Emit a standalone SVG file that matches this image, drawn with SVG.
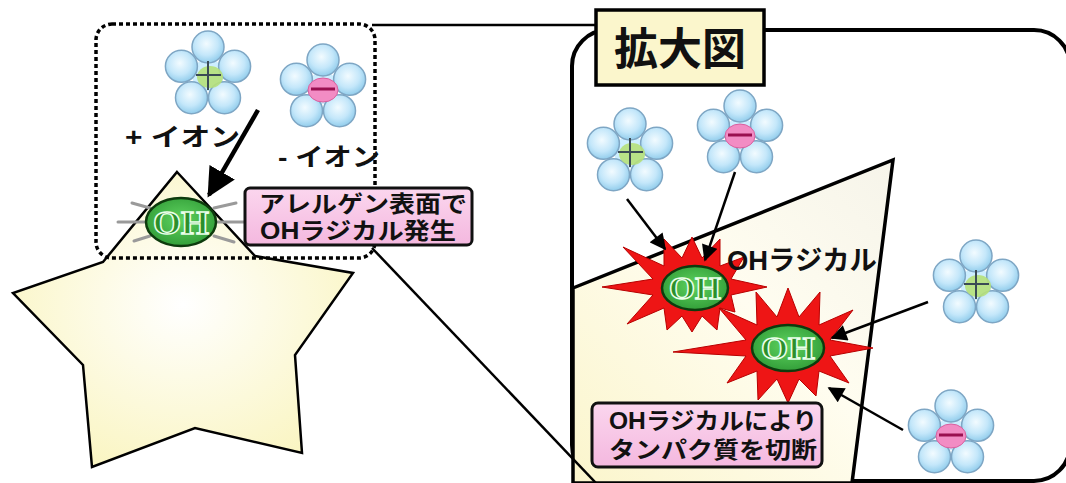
<svg xmlns="http://www.w3.org/2000/svg" xmlns:xlink="http://www.w3.org/1999/xlink" width="1066" height="483" viewBox="0 0 1066 483">
  <style>
    .jp { font-family: "Liberation Sans", "Noto Sans CJK JP", sans-serif; font-weight: 700; fill: #111; }
    .oh { font-family: "Liberation Serif", serif; font-weight: 700; fill: #2b8f2b; stroke: #eaffea; stroke-width: 1.4; }
    .ohball { fill: url(#gGreen); stroke: #0d3b0d; stroke-width: 2.5; }
    .petal { fill: url(#gPetal); stroke: #7ea6c4; stroke-width: 1.5; }
    .burst { fill: #ee1515; stroke: #b80000; stroke-width: 1; }
    .ray { stroke: #9a9a9a; stroke-width: 3; stroke-linecap: round; }
    .line { fill: none; stroke: #000; stroke-width: 2.5; }
    .arrow { fill: none; stroke: #000; stroke-width: 2.5; marker-end: url(#head); }
    .pink { fill: url(#gPink); stroke: #111; stroke-width: 3; }
  </style>
  <defs>
    <radialGradient id="gPetal" cx="0.45" cy="0.4" r="0.6">
      <stop offset="0" stop-color="#f2fbff"/>
      <stop offset="0.6" stop-color="#c4e7fa"/>
      <stop offset="1" stop-color="#92cdec"/>
    </radialGradient>
    <radialGradient id="gGreen" cx="0.5" cy="0.45" r="0.6">
      <stop offset="0" stop-color="#5fd35f"/>
      <stop offset="1" stop-color="#2f9a36"/>
    </radialGradient>
    <radialGradient id="gStar" cx="0.5" cy="0.45" r="0.6">
      <stop offset="0" stop-color="#ffffff"/>
      <stop offset="1" stop-color="#faf5c2"/>
    </radialGradient>
    <linearGradient id="gCut" x1="0" y1="1" x2="1" y2="0">
      <stop offset="0" stop-color="#fbf5cc"/>
      <stop offset="0.55" stop-color="#fffdf0"/>
      <stop offset="1" stop-color="#f6f4ea"/>
    </linearGradient>
    <linearGradient id="gPink" x1="0" y1="0" x2="0" y2="1">
      <stop offset="0" stop-color="#fbd6ee"/>
      <stop offset="1" stop-color="#f4b8df"/>
    </linearGradient>
    <marker id="head" viewBox="0 0 10 10" refX="9" refY="5" markerWidth="7" markerHeight="6.5" orient="auto" markerUnits="strokeWidth">
      <path d="M0,0 L10,5 L0,10 z" fill="#000"/>
    </marker>
    <marker id="headBig" viewBox="0 0 10 10" refX="9" refY="5" markerWidth="6.5" markerHeight="7" orient="auto" markerUnits="strokeWidth">
      <path d="M0,0 L10,5 L0,10 z" fill="#000"/>
    </marker>
    <!-- ion: five petals around a core -->
    <g id="petals">
      <circle cx="0" cy="0" r="16" fill="#cdeeff"/>
      <circle class="petal" cx="0" cy="-28" r="16"/>
      <circle class="petal" cx="26.6" cy="-8.7" r="16"/>
      <circle class="petal" cx="16.5" cy="22.7" r="16"/>
      <circle class="petal" cx="-16.5" cy="22.7" r="16"/>
      <circle class="petal" cx="-26.6" cy="-8.7" r="16"/>
    </g>
    <g id="ionPlus">
      <use href="#petals"/>
      <ellipse cx="2" cy="2" rx="13" ry="11" fill="#b6e07a" opacity="0.9"/>
      <path d="M-12,0 H13 M0,-14 V15" stroke="#3b4b55" stroke-width="2"/>
    </g>
    <g id="ionMinus">
      <use href="#petals"/>
      <ellipse cx="0" cy="2" rx="15" ry="12" fill="#f28cc4" stroke="#d8609f" stroke-width="1"/>
      <path d="M-12,1 H12" stroke="#9a1050" stroke-width="3"/>
    </g>
  </defs>

  <rect width="1066" height="483" fill="#ffffff"/>

  <!-- enlarged view frame -->
  <g id="zoom-frame">
    <rect x="572" y="30" width="498" height="451" rx="36" fill="#ffffff" stroke="#000" stroke-width="4"/>
    <polygon points="573,288 893,160 852,483 573,483" fill="url(#gCut)" stroke="#000" stroke-width="3.5"/>
  </g>

  <!-- allergen surface (star) -->
  <g id="allergen">
    <polygon points="177,172 255,256 353,273 295,355 302,453 195,428 92,467 83,365 13,293 103,262" fill="url(#gStar)" stroke="#000" stroke-width="2.5"/>
  </g>

  <!-- dotted detail area -->
  <g id="detail-area">
    <rect x="96" y="24" width="279" height="234" rx="16" fill="none" stroke="#000" stroke-width="3.5" stroke-dasharray="4 3"/>
  </g>

  <!-- OH radical on the allergen -->
  <g id="oh-left">
    <line class="ray" x1="118" y1="222" x2="146" y2="222"/>
    <line class="ray" x1="132" y1="203" x2="150" y2="208"/>
    <line class="ray" x1="134" y1="241" x2="150" y2="236"/>
    <line class="ray" x1="216" y1="222" x2="244" y2="222"/>
    <line class="ray" x1="214" y1="208" x2="236" y2="203"/>
    <line class="ray" x1="214" y1="236" x2="234" y2="242"/>
    <ellipse class="ohball" cx="181" cy="222" rx="35" ry="24"/>
    <text class="oh" x="181" y="234" font-size="33" text-anchor="middle" textLength="56" lengthAdjust="spacingAndGlyphs">OH</text>
  </g>

  <!-- ions, left -->
  <g id="ion-plus-left"><use href="#ionPlus" x="208" y="75"/></g>
  <g id="ion-minus-left"><use href="#ionMinus" x="323" y="88"/></g>
  <g id="label-plus"><text class="jp" x="125" y="146" font-size="25" textLength="115" lengthAdjust="spacingAndGlyphs">+ イオン</text></g>
  <g id="label-minus"><text class="jp" x="278" y="166" font-size="25" textLength="102" lengthAdjust="spacingAndGlyphs">- イオン</text></g>

  <!-- note: OH on allergen surface -->
  <g id="note-surface">
    <rect class="pink" x="245" y="188" width="227" height="57" rx="5"/>
    <text class="jp" font-size="23">
      <tspan x="259" y="212" textLength="208" lengthAdjust="spacingAndGlyphs">アレルゲン表面で</tspan>
      <tspan x="260" y="239" textLength="196" lengthAdjust="spacingAndGlyphs">OHラジカル発生</tspan>
    </text>
  </g>

  <!-- enlarged view: bursts and OH radicals -->
  <g id="burst-1">
    <polygon class="burst" points="767,287 731,295 735,312 720,308 717,330 702,316 692,332 682,316 667,330 664,308 627,324 653,295 602,287 653,279 623,247 664,266 664,239 682,258 692,237 702,258 720,239 720,266 744,257 731,279"/>
  </g>
  <g id="burst-2">
    <polygon class="burst" points="873,348 830,356 849,383 819,371 816,396 799,379 788,403 777,379 758,400 757,371 727,383 746,356 673,352 746,340 719,308 757,325 756,292 777,317 788,288 799,317 820,292 819,325 853,310 830,340"/>
  </g>
  <g id="oh-1">
    <ellipse class="ohball" cx="695" cy="288" rx="33" ry="22"/>
    <text class="oh" x="695" y="299" font-size="31" text-anchor="middle" textLength="52" lengthAdjust="spacingAndGlyphs">OH</text>
  </g>
  <g id="oh-2">
    <ellipse class="ohball" cx="788" cy="348" rx="36" ry="23"/>
    <text class="oh" x="788" y="359" font-size="31" text-anchor="middle" textLength="54" lengthAdjust="spacingAndGlyphs">OH</text>
  </g>
  <g id="label-radical"><text class="jp" x="727" y="270" font-size="27" textLength="150" lengthAdjust="spacingAndGlyphs">OHラジカル</text></g>

  <!-- ions, enlarged view -->
  <g id="ion-plus-1"><use href="#ionPlus" x="630" y="152"/></g>
  <g id="ion-minus-1"><use href="#ionMinus" x="740" y="134"/></g>
  <g id="ion-plus-2"><use href="#ionPlus" x="976" y="284"/></g>
  <g id="ion-minus-2"><use href="#ionMinus" x="951" y="434"/></g>

  <!-- note: protein cleavage -->
  <g id="note-cleave">
    <rect class="pink" x="592" y="403" width="230" height="64" rx="6"/>
    <text class="jp" font-size="23">
      <tspan x="609" y="429" textLength="208" lengthAdjust="spacingAndGlyphs">OHラジカルにより</tspan>
      <tspan x="609" y="458" textLength="208" lengthAdjust="spacingAndGlyphs">タンパク質を切断</tspan>
    </text>
  </g>

  <!-- title label -->
  <g id="title">
    <rect x="596" y="10" width="168" height="75" fill="#fbf6cc" stroke="#000" stroke-width="3.5"/>
    <text class="jp" x="680" y="65" font-size="44" text-anchor="middle">拡大図</text>
  </g>

  <!-- connectors -->
  <g id="connectors">
    <line class="line" x1="372" y1="25" x2="596" y2="25"/>
    <line class="line" x1="372" y1="248" x2="596" y2="483"/>
    <line x1="258" y1="110" x2="209" y2="195" stroke="#000" stroke-width="4.5" marker-end="url(#headBig)"/>
    <line class="arrow" x1="627" y1="199" x2="665" y2="249"/>
    <line class="arrow" x1="735" y1="172" x2="705" y2="260"/>
    <line class="arrow" x1="928" y1="302" x2="832" y2="338"/>
    <line class="arrow" x1="903" y1="430" x2="829" y2="388"/>
  </g>
</svg>
